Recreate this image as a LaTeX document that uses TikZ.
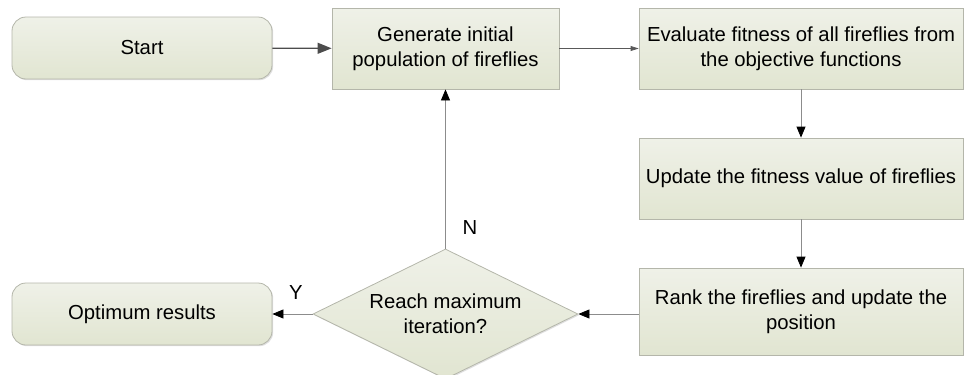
\documentclass[tikz,border=0pt]{standalone}
\usepackage{fontspec}
\setmainfont{Liberation Sans}
\usetikzlibrary{shapes.geometric,arrows.meta,shadows}
\definecolor{boxtop}{HTML}{EFF1E8}
\definecolor{boxbot}{HTML}{E1E5D1}
\definecolor{boxline}{HTML}{B4B6AA}
\definecolor{lineg}{HTML}{8C8C8C}
\tikzset{
  txt/.style={font=\fontsize{20.3}{25}\selectfont},
  box/.style={draw=boxline, line width=0.8pt, top color=boxtop, bottom color=boxbot,
    align=center, txt, inner sep=0pt,
    drop shadow={shadow xshift=1.2pt, shadow yshift=-1.2pt, fill=black!25, opacity=0.5}},
  rbox/.style={box, rounded corners=14pt},
  dec/.style={box, diamond, aspect=2.04},
  conn/.style={draw=lineg, line width=0.8pt, -{Triangle[length=11pt,width=9pt,color=black]}},
  lab/.style={txt, align=center}
}
\begin{document}
\begin{tikzpicture}[x=1pt,y=-1pt]
\useasboundingbox (0,0) rectangle (967,375);
\node[rbox, minimum width=260pt, minimum height=62pt] (start) at (142,48) {Start};
\node[box, minimum width=227pt, minimum height=81pt] (gen) at (445.5,48.5) {Generate initial\\population of fireflies};
\node[box, minimum width=324pt, minimum height=81pt] (eval) at (801,48.5) {Evaluate fitness of all fireflies from\\the objective functions};
\node[box, minimum width=324pt, minimum height=81pt] (upd) at (801,178.5) {Update the fitness value of fireflies};
\node[box, minimum width=324pt, minimum height=87pt] (rank) at (801,311.5) {Rank the fireflies and update the\\position};
\node[dec, minimum width=265pt, minimum height=130pt] (dec) at (445.5,314) {};
\node[lab] (dect) at (445.5,314) {Reach maximum\\iteration?};
\node[rbox, minimum width=260pt, minimum height=62pt] (opt) at (142,314) {Optimum results};
\draw[draw=black!70, line width=1.2pt, -{Triangle[length=14pt,width=11pt]}] (start) -- (gen);
\draw[draw=black!65, line width=0.8pt, -{Triangle[length=8pt,width=5pt]}] (gen) -- (eval);
\draw[conn] (eval) -- (upd);
\draw[conn] (upd) -- (rank);
\draw[conn] (rank.west |- dec) -- (dec.east);
\draw[conn] (dec.north) -- (gen.south);
\draw[conn] (dec.west) -- (opt.east);
\node[lab] (nl) at (470,228) {N};
\node[lab] (yl) at (296,293) {Y};
\end{tikzpicture}
\end{document}
